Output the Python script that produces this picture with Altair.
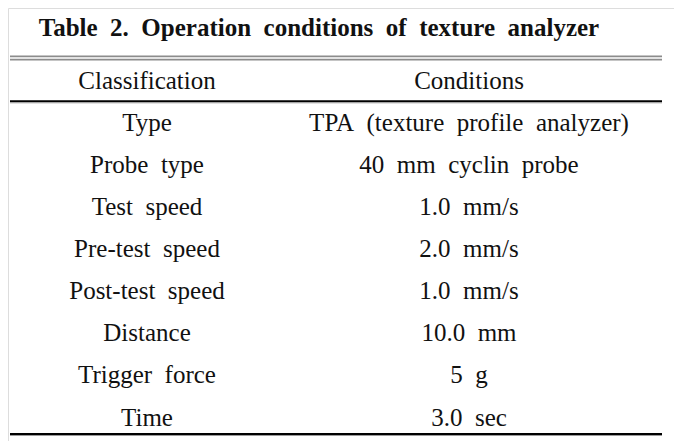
import altair as alt
import pandas as pd

# ---- data ----
title_text = "Table 2. Operation conditions of texture analyzer"
header = ["Classification", "Conditions"]
classification = ["Type", "Probe type", "Test speed", "Pre-test speed",
                  "Post-test speed", "Distance", "Trigger force", "Time"]
conditions = ["TPA (texture profile analyzer)", "40 mm cyclin probe", "1.0 mm/s",
              "2.0 mm/s", "1.0 mm/s", "10.0 mm", "5 g", "3.0 sec"]

# ---- layout (view pixels / row units) ----
W, H = 666, 433
ROW_PX = 42.1
FIRST_BASE = 80.7          # baseline of header row in view px
col_x = [139, 461]
title_x = 311
y_lo = -FIRST_BASE / ROW_PX
y_hi = (H - FIRST_BASE) / ROW_PX


def px_to_row(py):
    return (py - FIRST_BASE) / ROW_PX


def wide(s):
    return s.replace(" ", "\u00a0 ")


cells = []
for c, h in enumerate(header):
    cells.append({"row": 0, "x": col_x[c], "label": wide(h)})
for k, (a, b) in enumerate(zip(classification, conditions)):
    cells.append({"row": k + 1, "x": col_x[0], "label": wide(a)})
    cells.append({"row": k + 1, "x": col_x[1], "label": wide(b)})
cells_df = pd.DataFrame(cells)

title_df = pd.DataFrame([{"row": px_to_row(28), "x": title_x, "label": wide(title_text)}])

rules_df = pd.DataFrame([
    {"y": px_to_row(48.3), "x": 2, "x2": 654, "c": "#8c8c8c", "w": 1.8},
    {"y": px_to_row(51.7), "x": 2, "x2": 654, "c": "#8c8c8c", "w": 1.8},
    {"y": px_to_row(93.3), "x": 2, "x2": 654, "c": "#000000", "w": 2},
    {"y": px_to_row(94.8), "x": 2, "x2": 654, "c": "#9a9a9a", "w": 1},
    {"y": px_to_row(426.0), "x": 2, "x2": 654, "c": "#000000", "w": 2},
    {"y": px_to_row(427.5), "x": 2, "x2": 654, "c": "#9a9a9a", "w": 1},
])

xs = alt.Scale(domain=[0, W], nice=False, zero=False)
ys = alt.Scale(domain=[y_lo, y_hi], nice=False, zero=False, reverse=True)

text = alt.Chart(cells_df).mark_text(
    font="Liberation Serif", fontSize=25, baseline="alphabetic", align="center", color="#111111"
).encode(
    x=alt.X("x:Q", scale=xs, axis=None),
    y=alt.Y("row:Q", scale=ys, axis=None),
    text="label:N",
)

title = alt.Chart(title_df).mark_text(
    font="Liberation Serif", fontSize=25, fontWeight="bold", baseline="alphabetic",
    align="center", color="#111111"
).encode(
    x=alt.X("x:Q", scale=xs, axis=None),
    y=alt.Y("row:Q", scale=ys, axis=None),
    text="label:N",
)

rules = alt.Chart(rules_df).mark_rule().encode(
    x=alt.X("x:Q", scale=xs, axis=None),
    x2="x2:Q",
    y=alt.Y("y:Q", scale=ys, axis=None),
    color=alt.Color("c:N", scale=None),
    strokeWidth=alt.StrokeWidth("w:Q", scale=None),
)

chart = alt.layer(rules, title, text).properties(
    width=W, height=H, padding=0, autosize=alt.AutoSizeParams(type="none")
).configure_view(stroke=None).configure(background="white")

chart.save("out.html", embed_options={"renderer": "svg", "actions": False})
